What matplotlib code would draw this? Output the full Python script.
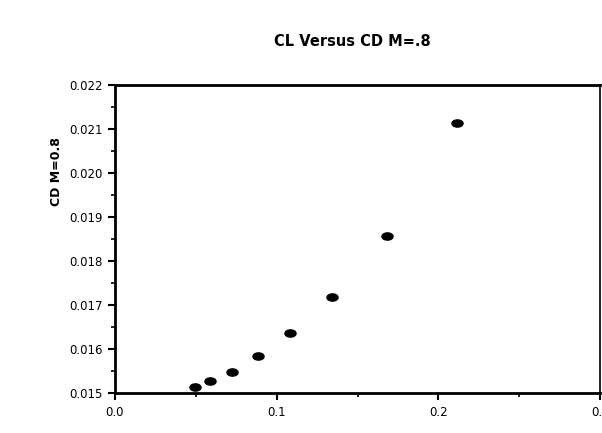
import matplotlib.pyplot as plt
from matplotlib.path import Path
from matplotlib.transforms import Affine2D
from matplotlib.ticker import MultipleLocator

# CL and CD values at M=0.8
cl = [0.0495, 0.0588, 0.0726, 0.0884, 0.1084, 0.1344, 0.1680, 0.2116]
cd = [0.01513, 0.01527, 0.01548, 0.01583, 0.01637, 0.01718, 0.01857, 0.02114]

x_ticks = [0.0, 0.1, 0.2, 0.3]
x_labels = ["0.0", "0.1", "0.2", "0.3"]
y_ticks = [0.015, 0.016, 0.017, 0.018, 0.019, 0.020, 0.021, 0.022]
y_labels = ["0.015", "0.016", "0.017", "0.018", "0.019", "0.020", "0.021", "0.022"]

# flattened oval marker
oval = Path.unit_circle().transformed(Affine2D().scale(1.0, 0.65))

fig = plt.figure(figsize=(6.02, 4.33), dpi=100)
ax = fig.add_axes([115 / 602, 1 - 393 / 433, 485 / 602, 308 / 433])

ax.plot(cl, cd, linestyle="none", marker=oval, markersize=8,
        color="black")

ax.set_xlim(0.0, 0.3)
ax.set_ylim(0.015, 0.022)
ax.set_xticks(x_ticks)
ax.set_xticklabels(x_labels)
ax.set_yticks(y_ticks)
ax.set_yticklabels(y_labels)
ax.xaxis.set_minor_locator(MultipleLocator(0.05))
ax.yaxis.set_minor_locator(MultipleLocator(0.0005))

ax.tick_params(which="major", direction="out", length=5, width=1.5,
               labelsize=8.5, pad=4)
ax.tick_params(which="minor", direction="out", length=3, width=1.2)
ax.tick_params(top=False, right=False)

for side in ["left", "bottom", "top"]:
    ax.spines[side].set_linewidth(2)
ax.spines["right"].set_linewidth(1.2)

fig.text(352 / 602, 1 - 42 / 433, "CL Versus CD M=.8", ha="center",
         va="center", fontsize=10.5, fontweight="bold")

ax.set_ylabel("CD M=0.8", fontsize=9, fontweight="bold")
ax.yaxis.set_label_coords(-0.108, 0.72)

fig.savefig("out.png", dpi=100)
